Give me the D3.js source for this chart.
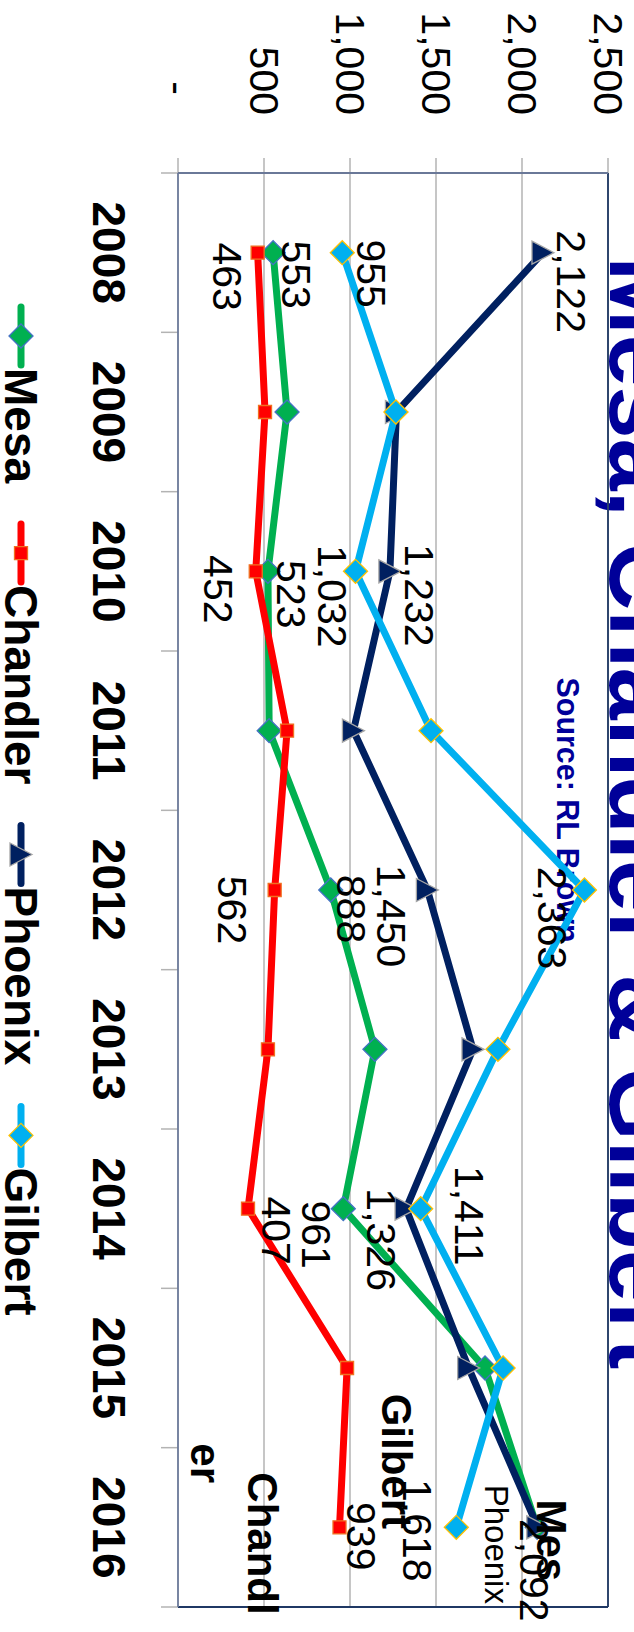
<!DOCTYPE html>
<html><head><meta charset="utf-8">
<script src="https://cdn.jsdelivr.net/npm/d3@7"></script>
<style>html,body{margin:0;padding:0;background:#fff;overflow:hidden}</style>
</head><body>
<svg id="chart" width="634" height="1632"></svg>
<script>
// ---------------- data ----------------
const years = ["2008","2009","2010","2011","2012","2013","2014","2015","2016"];
const mesa     = [553, 634, 523, 530, 888, 1145, 961, 1785, 2088];
const chandler = [463, 506, 452, 634, 562, 523, 407, 983, 939];
const phoenix  = [2122, 1270, 1232, 1020, 1450, 1715, 1326, 1690, 2092];
const gilbert  = [955, 1267, 1032, 1471, 2363, 1860, 1411, 1890, 1618];
const seriesNames = ["Mesa", "Chandler", "Phoenix", "Gilbert"];
const valueTicks = [0, 500, 1000, 1500, 2000, 2500];
const valueTickLabels = ["-", "500", "1,000", "1,500", "2,000", "2,500"];
const titleText = "Mesa, Chandler & Gilbert";
const sourceText = "Source: RL Brown";
// indices of points that carry a value label, per series
const labeledPoints = {
  Mesa: [0, 2, 4, 6],
  Chandler: [0, 2, 4, 6, 8],
  Phoenix: [0, 2, 4, 6, 8],
  Gilbert: [0, 2, 4, 6, 8]
};
// series-name label text lines at the last point
const nameLabelLines = {
  Mesa: ["Mes"],
  Chandler: ["Chandl", "er"],
  Phoenix: ["Phoenix"],
  Gilbert: ["Gilbert"]
};

// ---------------- layout / style (not data) ----------------
const W = 1632, H = 634;               // chart drawn unrotated, then turned 90deg
const plot = {left: 173, right: 1607, top: 26, bottom: 456};
const FONT = "'Liberation Sans', Arial, sans-serif";
const styles = {
  Mesa:     {color: "#00b050", marker: "diamond",  mfill: "#00b050", mstroke: "#4472c4"},
  Chandler: {color: "#ff0000", marker: "square",   mfill: "#ff0000", mstroke: "#f07020"},
  Phoenix:  {color: "#002060", marker: "triangle", mfill: "#002060", mstroke: "#a6a6a6"},
  Gilbert:  {color: "#00b0f0", marker: "diamond",  mfill: "#00b0f0", mstroke: "#ffc000"}
};
// label offsets: [dx of text centre, dy of baseline] relative to the point
const labelOffsets = {
  Mesa:     {0: [22, -9], 2: [23, -9], 4: [19, -6], 6: [26, 41]},
  Chandler: {0: [24, 45], 2: [18, 52], 4: [20, 57], 6: [22, -14], 8: [9, -7]},
  Phoenix:  {0: [29, -14], 2: [24, -15], 4: [26, 50], 6: [31, 39], 8: [43, 18]},
  Gilbert:  {0: [21, -15], 2: [25, 38], 4: [28, 46], 6: [7, -34], 8: [3, 53]}
};
// series-name label placement: anchor, dx, dy of first line, line step (dx,dy), font
const nameLabelLayout = {
  Mesa:     {anchor: "middle", dx: 13,  dy: 0,  step: [0, 57],   size: 42, weight: "bold"},
  Chandler: {anchor: "start",  dx: -55, dy: 92, step: [-29, 57], size: 42, weight: "bold"},
  Phoenix:  {anchor: "middle", dx: 17,  dy: 53, step: [0, 40],   size: 33, weight: "normal"},
  Gilbert:  {anchor: "middle", dx: -66, dy: 74, step: [0, 57],   size: 42, weight: "bold"}
};

const seriesValues = {Mesa: mesa, Chandler: chandler, Phoenix: phoenix, Gilbert: gilbert};

const svg = d3.select("#chart");
const g = svg.append("g").attr("transform", `translate(${H},0) rotate(90)`);

const x = d3.scalePoint().domain(years).range([plot.left, plot.right]).padding(0.5);
const y = d3.scaleLinear().domain([0, 2500]).range([plot.bottom, plot.top]);
const step = x.step();

// title & source
g.append("text").text(titleText)
  .attr("x", 813).attr("y", 24)
  .attr("text-anchor", "middle")
  .attr("textLength", 1113).attr("lengthAdjust", "spacingAndGlyphs")
  .style("font-family", FONT).style("font-weight", "bold").style("font-size", "94px")
  .style("fill", "#000099");
g.append("text").text(sourceText)
  .attr("x", 810).attr("y", 77)
  .attr("text-anchor", "middle")
  .attr("textLength", 265).attr("lengthAdjust", "spacingAndGlyphs")
  .style("font-family", FONT).style("font-weight", "bold").style("font-size", "32px")
  .style("fill", "#000099");

// gridlines + value ticks
g.append("g").selectAll("line").data(valueTicks).join("line")
  .attr("x1", plot.left - 15).attr("x2", d => d === 0 ? plot.left : plot.right)
  .attr("y1", d => y(d)).attr("y2", d => y(d))
  .attr("stroke", "#b3b3b3").attr("stroke-width", 1.5);

// value tick labels
g.append("g").selectAll("text").data(valueTicks).join("text")
  .text((d, i) => valueTickLabels[i])
  .attr("x", (d, i) => valueTickLabels[i] === "-" ? 95 : 115)
  .attr("y", d => y(d) + 14.5)
  .attr("text-anchor", "end")
  .style("font-family", FONT).style("font-size", "41px").style("fill", "#000");

// category tick marks at band boundaries
const bounds = years.map(yr => x(yr) - step / 2).concat([x(years[years.length - 1]) + step / 2]);
g.append("g").selectAll("line").data(bounds).join("line")
  .attr("x1", d => d).attr("x2", d => d)
  .attr("y1", plot.bottom).attr("y2", plot.bottom + 17)
  .attr("stroke", "#b3b3b3").attr("stroke-width", 1.5);

// plot border
g.append("line").attr("x1", plot.left).attr("x2", plot.right).attr("y1", plot.top).attr("y2", plot.top)
  .attr("stroke", "#1f3864").attr("stroke-width", 1.8);
g.append("line").attr("x1", plot.right).attr("x2", plot.right).attr("y1", plot.top).attr("y2", plot.bottom)
  .attr("stroke", "#1f3864").attr("stroke-width", 1.8);
g.append("line").attr("x1", plot.left).attr("x2", plot.left).attr("y1", plot.top).attr("y2", plot.bottom)
  .attr("stroke", "#6a7898").attr("stroke-width", 1.8);
g.append("line").attr("x1", plot.left).attr("x2", plot.right).attr("y1", plot.bottom).attr("y2", plot.bottom)
  .attr("stroke", "#6a7898").attr("stroke-width", 1.8);

// year labels
g.append("g").selectAll("text").data(years).join("text")
  .text(d => d)
  .attr("x", d => x(d)).attr("y", 541)
  .attr("text-anchor", "middle")
  .style("font-family", FONT).style("font-weight", "bold").style("font-size", "46px").style("fill", "#000");

// markers
function markerPath(kind) {
  if (kind === "diamond") return "M0,-12L12,0L0,12L-12,0Z";
  if (kind === "square") return "M-6.5,-6.5L6.5,-6.5L6.5,6.5L-6.5,6.5Z";
  return "M0,-11L11.5,11L-11.5,11Z";
}

const line = d3.line().x(d => x(d.year)).y(d => y(d.value));

seriesNames.forEach(name => {
  const st = styles[name];
  const pts = seriesValues[name].map((v, i) => ({year: years[i], value: v}));
  const sg = g.append("g");
  sg.append("path").datum(pts).attr("d", line)
    .attr("fill", "none").attr("stroke", st.color).attr("stroke-width", 7)
    .attr("stroke-linejoin", "round");
  sg.selectAll("path.m").data(pts).join("path").attr("class", "m")
    .attr("d", markerPath(st.marker))
    .attr("transform", d => `translate(${x(d.year)},${y(d.value)})`)
    .attr("fill", st.mfill).attr("stroke", st.mstroke).attr("stroke-width", 1.3);
});

// value labels
const fmt = d3.format(",");
seriesNames.forEach(name => {
  const vals = seriesValues[name];
  const idx = labeledPoints[name];
  g.append("g").selectAll("text").data(idx).join("text")
    .text(i => fmt(vals[i]))
    .attr("x", i => x(years[i]) + labelOffsets[name][i][0])
    .attr("y", i => y(vals[i]) + labelOffsets[name][i][1])
    .attr("text-anchor", "middle")
    .style("font-family", FONT).style("font-size", "41px").style("fill", "#000");
});

// series-name labels at the last point
seriesNames.forEach(name => {
  const vals = seriesValues[name];
  const last = vals.length - 1;
  const L = nameLabelLayout[name];
  const px = x(years[last]), py = y(vals[last]);
  g.append("g").selectAll("text").data(nameLabelLines[name]).join("text")
    .text(d => d)
    .attr("x", (d, k) => px + L.dx + k * L.step[0])
    .attr("y", (d, k) => py + L.dy + k * L.step[1])
    .attr("text-anchor", L.anchor)
    .style("font-family", FONT).style("font-weight", L.weight)
    .style("font-size", L.size + "px").style("fill", "#000");
});

// legend
const legendY = 613, legendTextY = 629, legendLine = 58;
let lx = 307;
seriesNames.forEach(name => {
  const st = styles[name];
  const lg = g.append("g");
  lg.append("line").attr("x1", lx).attr("x2", lx + legendLine).attr("y1", legendY).attr("y2", legendY)
    .attr("stroke", st.color).attr("stroke-width", 7).attr("stroke-linecap", "round");
  lg.append("path").attr("d", markerPath(st.marker))
    .attr("transform", `translate(${lx + legendLine / 2},${legendY})`)
    .attr("fill", st.mfill).attr("stroke", st.mstroke).attr("stroke-width", 1.3);
  const t = lg.append("text").text(name)
    .attr("x", lx + legendLine + 3).attr("y", legendTextY)
    .style("font-family", FONT).style("font-weight", "bold").style("font-size", "46px").style("fill", "#000");
  lx += legendLine + 3 + t.node().getComputedTextLength() + 41;
});
</script>
</body></html>
